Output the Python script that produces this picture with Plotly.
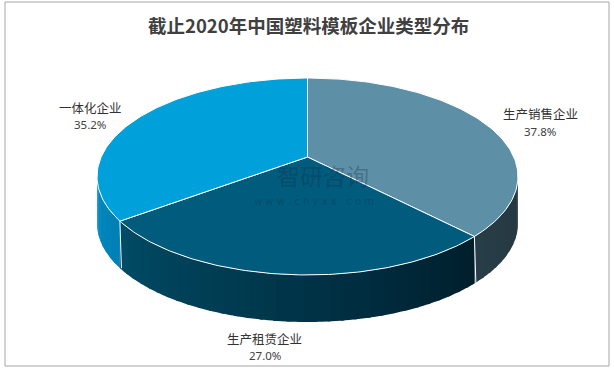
import numpy as np
import plotly.graph_objects as go

# ---- data ----
categories = ["生产销售企业", "生产租赁企业", "一体化企业"]
shares = [37.8, 27.0, 35.2]
pct_labels = ["37.8%", "27.0%", "35.2%"]
title_text = "截止2020年中国塑料模板企业类型分布"

# ---- styles ----
top_colors = ["#5D8FA7", "#005B7D", "#00A0DA"]
side_left = [(40, 62, 72), (0, 76, 102), (0, 138, 192)]
side_right = [(36, 55, 64), (0, 30, 44), (0, 128, 180)]
name_xy = [(540, 113), (264, 338), (90, 107)]
pct_xy = [(540, 131), (265, 355), (90, 124)]

# perspective projection of a tilted disc (pixel space of a 614x370 canvas)
CX, CY = 307.5, 157.0
F, G, E = 206.3, 94.6, 0.198
DEPTH = 47


def proj(t_deg):
    t = np.radians(t_deg)
    d = 1 + E * np.cos(t)
    return CX + F * np.sin(t) / d, CY - G * np.cos(t) / d


fig = go.Figure()

total = sum(shares)
bounds = np.concatenate([[0], np.cumsum(shares) / total * 360])
vis_lo = 180 - np.degrees(np.arccos(E))
vis_hi = 180 + np.degrees(np.arccos(E))

# ---- sides (front part of the cylinder) ----
seams = []
for i in range(len(shares)):
    a, b = max(bounds[i], vis_lo), min(bounds[i + 1], vis_hi)
    if a >= b:
        continue
    n = max(2, int((b - a) / 3))
    edges = np.linspace(a, b, n + 1)
    for k in range(n):
        t0, t1 = edges[k], edges[k + 1]
        t0o = max(a, t0 - 0.8)
        ts = np.linspace(t0o, t1, 5)
        x, y = proj(ts)
        xs = np.concatenate([x, x[::-1]])
        ys = np.concatenate([y, y[::-1] + DEPTH])
        fr = ((t0 + t1) / 2 - a) / (b - a)
        c = [int(side_right[i][j] + (side_left[i][j] - side_right[i][j]) * fr) for j in range(3)]
        col = f"rgb({c[0]},{c[1]},{c[2]})"
        fig.add_trace(go.Scatter(x=xs, y=ys, mode="none", fill="toself",
                                 fillcolor=col, hoverinfo="skip", showlegend=False))
    for t in (a, b):
        if vis_lo < t < vis_hi:
            seams.append(t)

for t in sorted(set(seams)):
    x, y = proj(np.array([t]))
    fig.add_trace(go.Scatter(x=[x[0], x[0] + 1.5], y=[y[0], y[0] + DEPTH], mode="lines",
                             line=dict(color="white", width=1), hoverinfo="skip",
                             showlegend=False))

# ---- top faces ----
for i in range(len(shares)):
    ts = np.linspace(bounds[i], bounds[i + 1], 120)
    x, y = proj(ts)
    xs = np.concatenate([[CX], x, [CX]])
    ys = np.concatenate([[CY], y, [CY]])
    fig.add_trace(go.Scatter(x=xs, y=ys, mode="lines", fill="toself",
                             fillcolor=top_colors[i], line=dict(color="white", width=1),
                             hoverinfo="skip", showlegend=False))

# ---- labels ----
for i in range(len(shares)):
    fig.add_annotation(x=name_xy[i][0], y=name_xy[i][1], text=categories[i],
                       showarrow=False, xanchor="center", yanchor="middle",
                       font=dict(family="Noto Sans CJK SC", size=12.5, color="#333333"))
    fig.add_annotation(x=pct_xy[i][0], y=pct_xy[i][1], text=pct_labels[i],
                       showarrow=False, xanchor="center", yanchor="middle",
                       font=dict(family="Noto Sans", size=11.5, color="#404040"))

# ---- watermark ----
fig.add_annotation(x=323, y=175, text="智研咨询", showarrow=False, borderpad=0,
                   font=dict(family="Noto Sans CJK SC", size=23, color="rgba(20,45,65,0.33)"))
fig.add_annotation(x=314, y=201, text="w w w . c h y x x . c o m", showarrow=False, borderpad=0,
                   font=dict(family="DejaVu Sans", size=10, color="rgba(20,45,65,0.33)"))

fig.add_annotation(x=308, y=25, text=f"<b>{title_text}</b>", showarrow=False,
                   font=dict(family="Noto Sans CJK SC", size=18.5, color="#404040"))

fig.update_layout(
    width=614, height=370,
    margin=dict(l=0, r=0, t=0, b=0),
    paper_bgcolor="white", plot_bgcolor="white",
    xaxis=dict(range=[0, 614], visible=False, fixedrange=True),
    yaxis=dict(range=[370, 0], visible=False, fixedrange=True),
    showlegend=False,
    hovermode=False,
    shapes=[dict(type="rect", x0=5, y0=2, x1=609, y1=366, xref="x", yref="y",
                 line=dict(color="#A6A6A6", width=1), layer="below")],
)

fig.write_html("out.html", config={"displayModeBar": False},
               post_script="document.body.style.margin='0px';")
